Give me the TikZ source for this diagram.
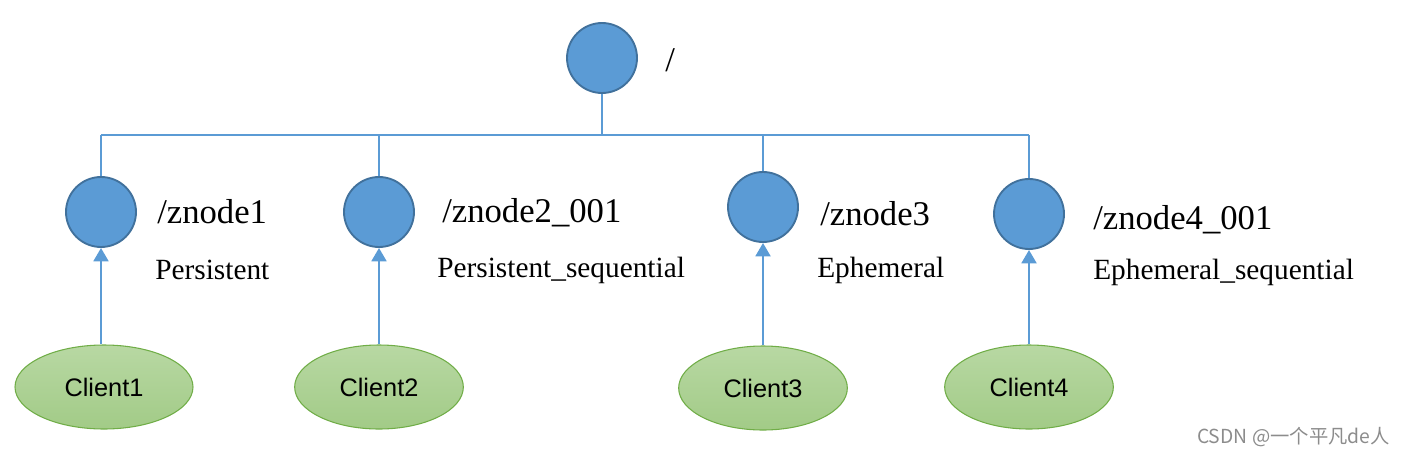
\documentclass[tikz,border=0pt]{standalone}
\usepackage{fontspec}
\setmainfont{Liberation Serif}
\newfontfamily\arialfont{Liberation Sans}
\newfontfamily\cjkfont{Noto Sans CJK SC}
\usetikzlibrary{shapes.geometric,arrows.meta}
\definecolor{nodeblue}{HTML}{5B9BD5}
\definecolor{nodeborder}{HTML}{41719C}
\definecolor{greenfill}{HTML}{A2CB87}
\definecolor{greenlight}{HTML}{B8D8A3}
\definecolor{greenborder}{HTML}{70AD47}
\tikzset{
  znodecircle/.style={circle, fill=nodeblue, draw=nodeborder, line width=1.4pt, minimum size=52.5pt, inner sep=0pt},
  client/.style={ellipse, top color=greenlight, bottom color=greenfill, draw=greenborder, line width=0.8pt, minimum width=126.5pt, minimum height=63pt, inner sep=0pt, font=\arialfont\fontsize{19}{21}\selectfont},
  namelabel/.style={anchor=west, inner sep=0pt, font=\fontsize{26}{28}\selectfont},
  typelabel/.style={anchor=west, inner sep=0pt, font=\fontsize{22}{24}\selectfont},
  treeline/.style={draw=nodeblue, line width=0.8pt},
  clientarrow/.style={draw=nodeblue, line width=2.1pt, -{Triangle[length=10pt,width=11pt]}},
}
\begin{document}
\begin{tikzpicture}[x=0.75pt,y=-0.75pt]
\useasboundingbox (0,0) rectangle (1405,457);
\node[znodecircle] (root) at (602,58) {};
\node[namelabel] (rootlbl) at (665,60) {/};

\node[znodecircle] (z1) at (101,212) {};
\node[znodecircle] (z2) at (379,212) {};
\node[znodecircle] (z3) at (763,207) {};
\node[znodecircle] (z4) at (1029,214) {};

\coordinate (j0) at (602,135);
\coordinate (j1) at (101,135);
\coordinate (j2) at (379,135);
\coordinate (j3) at (763,135);
\coordinate (j4) at (1029,135);

\draw[treeline] (root.south) -- (j0);
\draw[treeline] (j1) -- (j4);
\draw[treeline] (j1) -- (z1.north);
\draw[treeline] (j2) -- (z2.north);
\draw[treeline] (j3) -- (z3.north);
\draw[treeline] (j4) -- (z4.north);

\node[namelabel] (n1) at (157,212) {/znode1};
\node[typelabel] (t1) at (155,270) {Persistent};
\node[namelabel] (n2) at (442,213) {/znode2\_001};
\node[typelabel] (t2) at (437,270) {Persistent\_sequential};
\node[namelabel] (n3) at (820,214) {/znode3};
\node[typelabel] (t3) at (817,270) {Ephemeral};
\node[namelabel] (n4) at (1093,220) {/znode4\_001};
\node[typelabel] (t4) at (1093,272) {Ephemeral\_sequential};

\node[client, minimum width=133.5pt] (c1) at (104,387) {Client1};
\node[client] (c2) at (379,387) {Client2};
\node[client] (c3) at (763,388) {Client3};
\node[client] (c4) at (1029,387) {Client4};

\draw[clientarrow] (c1.north -| z1) -- (z1.south);
\draw[clientarrow] (c2.north) -- (z2.south);
\draw[clientarrow] (c3.north) -- (z3.south);
\draw[clientarrow] (c4.north) -- (z4.south);

\node[anchor=east, inner sep=0pt, text=black!45, font=\cjkfont\fontsize{14.5}{16}\selectfont] (wm) at (1390,437) {CSDN @一个平凡de人};
\end{tikzpicture}
\end{document}
